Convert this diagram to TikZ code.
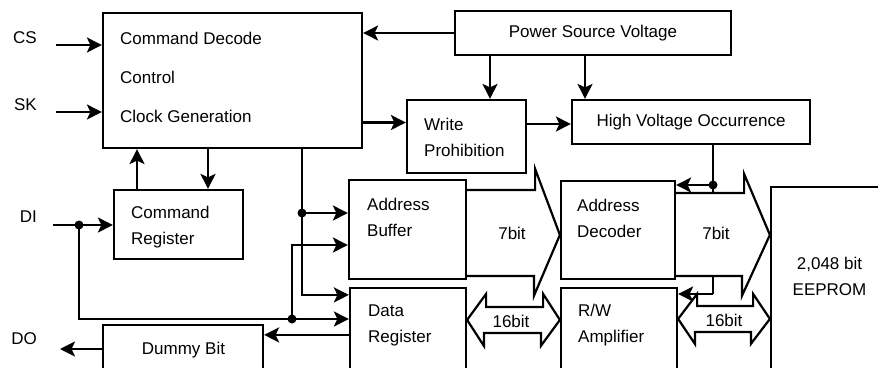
\documentclass[tikz,border=0pt]{standalone}
\usepackage{fontspec}
\setmainfont{Liberation Sans}
\usetikzlibrary{arrows.meta}

\begin{document}
\begin{tikzpicture}[x=1pt, y=-1pt, font=\fontsize{17}{26}\selectfont,
    blk/.style={draw, line width=2.2pt, inner sep=0pt},
    lbl/.style={inner sep=0pt, align=left, anchor=west},
    pin/.style={inner sep=0pt, anchor=east},
    arr/.style={line width=2.2pt, -{Stealth[length=15pt,width=15pt,inset=3.5pt]}},
    wire/.style={line width=2.2pt},
    bus/.style={line width=2.2pt, fill=white, line join=miter}]
        \clip (0,0) rectangle (878,367);
        %%%%%%%%%%%%%%%%%%%%%%%% Bloques %%%%%%%%%%%%%%%%%%%%%%%%%%%%%%%%%%%
        \node[blk, minimum width=259pt, minimum height=135pt] (ctrl) at (232.5,80.5) {};
        \node[blk, minimum width=276pt, minimum height=44pt] (psv) at (593,33) {Power Source Voltage};
        \node[blk, minimum width=119pt, minimum height=73pt] (wp) at (466.5,136.5) {};
        \node[blk, minimum width=238pt, minimum height=44pt] (hvo) at (691,122) {High Voltage Occurrence};
        \node[blk, minimum width=129pt, minimum height=69pt] (cmdreg) at (178.5,224.5) {};
        \node[blk, minimum width=117pt, minimum height=99pt] (abuf) at (407.5,229.5) {};
        \node[blk, minimum width=114pt, minimum height=98pt] (adec) at (618,230) {};
        \node[blk, minimum width=116pt, minimum height=97pt] (dreg) at (408,336.5) {}; %sale por abajo
        \node[blk, minimum width=116pt, minimum height=97pt] (rwamp) at (619,336.5) {};
        \node[blk, minimum width=160pt, minimum height=60pt] (dummy) at (183,355) {};
        \node[blk, minimum width=129pt, minimum height=213pt] (eeprom) at (835.5,293.5) {};
        %%%%%%%%%%%%%%%%%%%%%%%% Textos %%%%%%%%%%%%%%%%%%%%%%%%%%%%%%%%%%%%
        \node[lbl] (ctrl-t) at (120,77) {Command Decode\\[13pt]Control\\[13pt]Clock Generation};
        \node[lbl] (wp-t) at (424,137) {Write\\Prohibition};
        \node[lbl] (cmdreg-t) at (131,227) {Command\\Register};
        \node[lbl] (abuf-t) at (367,217.5) {Address\\Buffer};
        \node[lbl] (adec-t) at (577,218) {Address\\Decoder};
        \node[lbl] (dreg-t) at (368,325) {Data\\Register};
        \node[lbl] (rwamp-t) at (578,325) {R/W\\Amplifier};
        \node[inner sep=0pt] (dummy-t) at (183.5,350) {Dummy Bit};
        \node[inner sep=0pt, align=center] (eeprom-t) at (829.5,276) {2,048 bit\\EEPROM};
        %%%%%%%%%%%%%%%%%%%%%%%% Pines %%%%%%%%%%%%%%%%%%%%%%%%%%%%%%%%%%%%%
        \node[pin] (cs) at (37,37.5) {CS};
        \node[pin] (sk) at (37,105) {SK};
        \node[pin] (di) at (37,217) {DI};
        \node[pin] (do) at (37,339) {DO};
        \coordinate (cs-in) at (56,45);
        \coordinate (sk-in) at (56,112);
        \coordinate (di-in) at (53,225);
        \coordinate (di-dot) at (79,225);
        \coordinate (do-out) at (60,349);
        \coordinate (ctl-dot) at (302,213);
        \coordinate (dat-dot) at (292,319);
        \coordinate (hv-dot) at (713,185);
        \coordinate (hv-low) at (713,294);
        %%%%%%%%%%%%%%%%%%%%%%%% Alta tension (pasa por detras del bus) %%%%%
        \draw[wire] (hvo.south -| hv-dot) -- (hv-low);
        \draw[arr] (hv-dot) -- (hv-dot -| adec.east);
        \draw[arr] (hv-low) -- (hv-low -| rwamp.east);
        %%%%%%%%%%%%%%%%%%%%%%%% Buses %%%%%%%%%%%%%%%%%%%%%%%%%%%%%%%%%%%%%
        \draw[bus] ([yshift=-11pt]abuf.north east) -- ++(68,0) -- ++(0,-21) -- ([yshift=-55pt]adec.north west)
            -- ++(-26,61) -- ++(0,-20) -- ([yshift=-97pt]abuf.north east); %7bit
        \draw[bus] ([yshift=-13pt]adec.north east) -- ++(68,0) -- ++(0,-19) -- ([yshift=-49pt]eeprom.north west)
            -- ++(-28,61) -- ++(0,-20) -- ([yshift=-96pt]adec.north east); %7bit
        \draw[bus] ([yshift=-33pt]dreg.north east) -- ++(19,-26) -- ++(0,13) -- ++(57,0) -- ++(0,-13)
            -- ([yshift=-33pt]rwamp.north west) -- ++(-19,26) -- ++(0,-13) -- ++(-57,0) -- ++(0,13) -- cycle; %16bit
        \draw[bus] ([yshift=-32pt]rwamp.north east) -- ++(19,-25) -- ++(0,12) -- ++(56,0) -- ++(0,-12)
            -- ([yshift=-133pt]eeprom.north west) -- ++(-19,25) -- ++(0,-12) -- ++(-56,0) -- ++(0,12) -- cycle; %16bit
        \node[inner sep=0pt] (b7a) at (512,233) {7bit};
        \node[inner sep=0pt] (b7b) at (716,233) {7bit};
        \node[inner sep=0pt] (b16a) at (511,321) {16bit};
        \node[inner sep=0pt] (b16b) at (724,320) {16bit};
        %%%%%%%%%%%%%%%%%%%%%%%% Conexiones %%%%%%%%%%%%%%%%%%%%%%%%%%%%%%%%
        \draw[arr] (cs-in) -- (cs-in -| ctrl.west);
        \draw[arr] (sk-in) -- (sk-in -| ctrl.west);
        \draw[arr] (psv.west) -- (psv.west -| ctrl.east);
        \draw[arr] ([xshift=-103pt]psv.south) -- ([xshift=-103pt]psv.south |- wp.north);
        \draw[arr] ([xshift=-8pt]psv.south) -- ([xshift=-8pt]psv.south |- hvo.north);
        \draw[arr] ([yshift=14pt]wp.west -| ctrl.east) -- ([yshift=14pt]wp.west);
        \draw[arr] ([yshift=-2pt]hvo.west -| wp.east) -- ([yshift=-2pt]hvo.west);
        \draw[arr] ([xshift=-41.5pt]cmdreg.north) -- ([xshift=-41.5pt]cmdreg.north |- ctrl.south);
        \draw[arr] ([xshift=29.5pt]cmdreg.north |- ctrl.south) -- ([xshift=29.5pt]cmdreg.north);
        \draw[arr] (ctrl.south -| ctl-dot) |- ([yshift=-8pt]dreg.north west);
        \draw[arr] (ctl-dot) -- (ctl-dot -| abuf.west);
        \draw[arr] (di-in) -- (di-in -| cmdreg.west);
        \draw[arr] (di-dot) |- (dat-dot -| dreg.west);
        \draw[arr] (dat-dot) |- ([yshift=-15.5pt]abuf.west);
        \draw[arr] ([yshift=-48pt]dreg.north west) -- ([yshift=-48pt]dreg.north west -| dummy.east);
        \draw[arr] (dummy.west |- do-out) -- (do-out);
        %%%%%%%%%%%%%%%%%%%%%%%% Puntos de union %%%%%%%%%%%%%%%%%%%%%%%%%%%
        \fill (di-dot) circle (4.5pt);
        \fill (ctl-dot) circle (4.5pt);
        \fill (dat-dot) circle (4.5pt);
        \fill (hv-dot) circle (4.5pt);
\end{tikzpicture}
\end{document}
